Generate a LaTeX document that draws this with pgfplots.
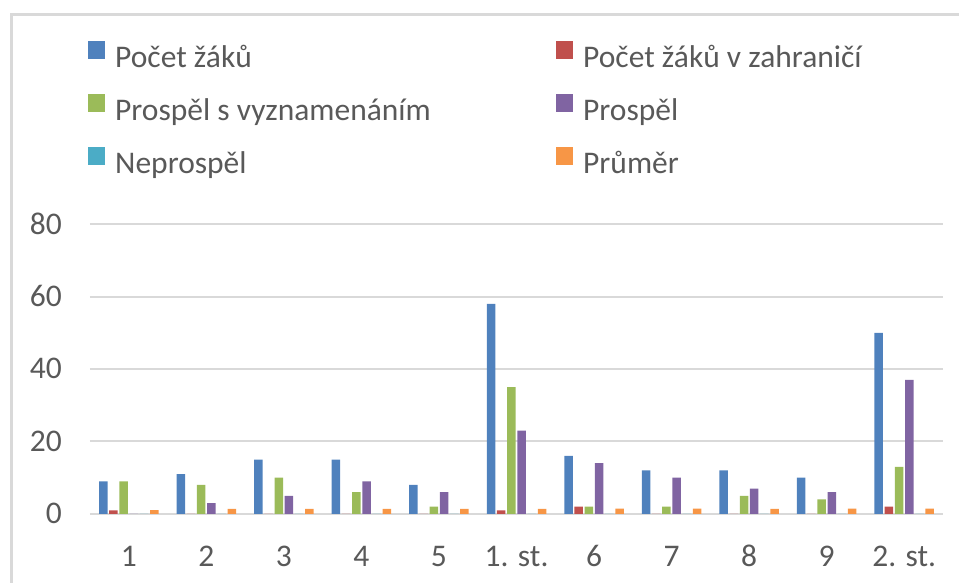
\documentclass[border=0pt]{standalone}
\usepackage{pgfplots}
\pgfplotsset{compat=1.18}
\usepackage{fontspec}
\setmainfont{Carlito}
\definecolor{cBlue}{HTML}{4F81BD}
\definecolor{cRed}{HTML}{C0504D}
\definecolor{cGreen}{HTML}{9BBB59}
\definecolor{cPurple}{HTML}{8064A2}
\definecolor{cCyan}{HTML}{4BACC6}
\definecolor{cOrange}{HTML}{F79646}
\definecolor{cText}{HTML}{595959}
\definecolor{cGrid}{HTML}{D9D9D9}
\newcommand{\bigfont}{\fontsize{31.5}{37}\selectfont}
\begin{document}
\begin{tikzpicture}[x=1pt,y=1pt]
\useasboundingbox (0,0) rectangle (959,583);
\draw[cGrid, line width=3pt] (11.5,0) -- (11.5,568.5) -- (959,568.5);
\begin{axis}[
  at={(90pt,69pt)}, anchor=south west,
  scale only axis, width=853pt, height=290pt,
  xmin=-0.5, xmax=10.5, ymin=0, ymax=80,
  ytick={0,20,40,60,80},
  xtick={0,1,2,3,4,5,6,7,8,9,10},
  xticklabels={1,2,3,4,5,1. st.,6,7,8,9,2. st.},
  ymajorgrids, grid style={cGrid, line width=2pt},
  axis line style={draw=none},
  major tick length=0pt,
  /pgf/number format/assume math mode=true,
  tick label style={font=\bigfont, text=cText},
  yticklabel style={anchor=base east, inner sep=0pt, xshift=-28pt, yshift=-10pt},
  xticklabel style={anchor=base, inner sep=0pt, yshift=-53pt},
  ybar=1.7pt, bar width=8.5pt,
  legend columns=2,
  legend style={at={(-0.00234,1.631)}, anchor=north west, draw=none, fill=none,
    inner sep=0pt, font=\bigfont, text=cText,
    column sep=10pt, row sep=19pt,
    nodes={inner sep=0pt, text height=22pt, text depth=8pt},
    /tikz/every even column/.append style={column sep=0pt}},
  legend cell align=left,
  legend image code/.code={\fill[#1] (0pt,1pt) rectangle (17pt,19pt);},
]
\addplot[fill=cBlue, draw=none] coordinates {(0,9) (1,11) (2,15) (3,15) (4,8) (5,58) (6,16) (7,12) (8,12) (9,10) (10,50)};
\addplot[fill=cRed, draw=none] coordinates {(0,1) (1,0) (2,0) (3,0) (4,0) (5,1) (6,2) (7,0) (8,0) (9,0) (10,2)};
\addplot[fill=cGreen, draw=none] coordinates {(0,9) (1,8) (2,10) (3,6) (4,2) (5,35) (6,2) (7,2) (8,5) (9,4) (10,13)};
\addplot[fill=cPurple, draw=none] coordinates {(0,0) (1,3) (2,5) (3,9) (4,6) (5,23) (6,14) (7,10) (8,7) (9,6) (10,37)};
\addplot[fill=cCyan, draw=none] coordinates {(0,0) (1,0) (2,0) (3,0) (4,0) (5,0) (6,0) (7,0) (8,0) (9,0) (10,0)};
\addplot[fill=cOrange, draw=none] coordinates {(0,1.1) (1,1.4) (2,1.4) (3,1.4) (4,1.4) (5,1.4) (6,1.5) (7,1.5) (8,1.4) (9,1.5) (10,1.5)};
\legend{\makebox[441pt][l]{Počet žáků}, Počet žáků v zahraničí, \makebox[441pt][l]{Prospěl s vyznamenáním}, Prospěl, \makebox[441pt][l]{Neprospěl}, Průměr}
\end{axis}
\end{tikzpicture}
\end{document}
